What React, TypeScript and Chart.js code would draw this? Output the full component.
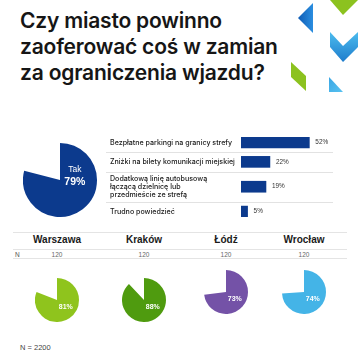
import React, { useEffect, useRef } from "react";
import { Chart, registerables } from "chart.js";

Chart.register(...registerables);

const FONT = "'Liberation Sans', Arial, Helvetica, sans-serif";
const FONT_TITLE = "Inter, 'Liberation Sans', Arial, sans-serif";
Chart.defaults.font.family = FONT;

// ---- data ----
const titleLines = ["Czy miasto powinno", "zaoferować coś w zamian", "za ograniczenia wjazdu?"];

const overallLabels = ["Tak", "Pozostali"];
const overallValues = [79, 21];

const reasonLabels = [
  ["Bezpłatne parkingi na granicy strefy"],
  ["Zniżki na bilety komunikacji miejskiej"],
  ["Dodatkową linię autobusową", "łączącą dzielnicę lub", "przedmieście ze strefą"],
  ["Trudno powiedzieć"],
];
const reasonValues = [52, 22, 19, 5];

const cityNames = ["Warszawa", "Kraków", "Łódź", "Wrocław"];
const cityN = [120, 120, 120, 120];
const cityYes = [81, 88, 73, 74];
const totalN = 2200;

// ---- styles / layout ----
const NAVY = "#0c3a8d";
const cityColors = ["#8fc41d", "#4f9b0f", "#7452a7", "#44b4e7"];
const cityCenters = [
  { x: 57, y: 300 },
  { x: 144, y: 300 },
  { x: 226, y: 292 },
  { x: 304, y: 292 },
];

// Each answer row is as tall as its label (in text lines) plus a fixed gap,
// so the three-line answer gets a taller row.
const ROW_GAP = 2.6;
const rowSpans = reasonLabels.map((l) => l.length + ROW_GAP);
const rowStarts = rowSpans.map((_, i) => rowSpans.slice(0, i).reduce((a, b) => a + b, 0));
const rowCenters = rowStarts.map((s, i) => s + rowSpans[i] / 2);

type PieText = { text: string; dx: number; dy: number; size: number; weight: string };

// Writes text inside the first slice, placed relative to the arc's centre and radius.
const sliceTextPlugin = {
  id: "sliceText",
  afterDatasetsDraw(chart: any, _args: any, opts: any) {
    const arc = chart.getDatasetMeta(0).data[0];
    if (!arc || !opts || !opts.lines) return;
    const { x, y, outerRadius } = arc;
    const ctx = chart.ctx;
    ctx.save();
    ctx.fillStyle = "#ffffff";
    ctx.textAlign = "center";
    ctx.textBaseline = "middle";
    (opts.lines as PieText[]).forEach((l) => {
      ctx.font = `${l.weight} ${l.size}px ${FONT}`;
      ctx.fillText(l.text, x + l.dx * outerRadius, y + l.dy * outerRadius);
    });
    ctx.restore();
  },
};

function PieChart(props: {
  values: number[];
  labels: string[];
  color: string;
  size: number;
  left: number;
  top: number;
  lines: PieText[];
}) {
  const ref = useRef<HTMLCanvasElement | null>(null);
  useEffect(() => {
    if (!ref.current) return;
    const chart = new Chart(ref.current, {
      type: "pie",
      data: {
        labels: props.labels,
        datasets: [
          {
            data: props.values,
            backgroundColor: [props.color, "rgba(0,0,0,0)"],
            borderWidth: 0,
          },
        ],
      },
      options: {
        responsive: false,
        animation: false,
        events: [],
        layout: { padding: 0 },
        plugins: {
          legend: { display: false },
          tooltip: { enabled: false },
          sliceText: { lines: props.lines },
        } as any,
      },
      plugins: [sliceTextPlugin],
    });
    return () => chart.destroy();
  }, []);
  return (
    <canvas
      ref={ref}
      width={props.size}
      height={props.size}
      style={{
        position: "absolute",
        left: props.left,
        top: props.top,
        width: props.size,
        height: props.size,
        display: "block",
      }}
    />
  );
}

// Thin rules on the boundaries between answer rows, running under the labels as well.
const rowRulePlugin = {
  id: "rowRules",
  afterDraw(chart: any) {
    const ys = chart.scales.y;
    const ctx = chart.ctx;
    ctx.save();
    ctx.strokeStyle = "#e2e2e2";
    ctx.lineWidth = 1;
    for (let i = 1; i < rowStarts.length; i++) {
      const y = Math.round(ys.getPixelForValue(rowStarts[i])) + 0.5;
      ctx.beginPath();
      ctx.moveTo(6, y);
      ctx.lineTo(chart.chartArea.right, y);
      ctx.stroke();
    }
    ctx.restore();
  },
};

// Percentage written just past the end of each bar.
const barValuePlugin = {
  id: "barValues",
  afterDatasetsDraw(chart: any) {
    const meta = chart.getDatasetMeta(0);
    const ctx = chart.ctx;
    ctx.save();
    ctx.fillStyle = "#333333";
    ctx.font = `6.4px ${FONT}`;
    ctx.textAlign = "left";
    ctx.textBaseline = "middle";
    meta.data.forEach((bar: any, i: number) => {
      ctx.fillText(`${reasonValues[i]}%`, bar.x + 6, bar.y);
    });
    ctx.restore();
  },
};

function ReasonsChart() {
  const ref = useRef<HTMLCanvasElement | null>(null);
  useEffect(() => {
    if (!ref.current) return;
    const chart = new Chart(ref.current, {
      type: "bar",
      data: {
        datasets: [
          {
            data: reasonValues.map((v, i) => ({ x: v, y: rowCenters[i] })),
            backgroundColor: NAVY,
            barThickness: 11,
          },
        ],
      },
      options: {
        indexAxis: "y",
        responsive: false,
        animation: false,
        events: [],
        layout: { padding: { left: 10, right: 7, top: 0, bottom: 0 } },
        plugins: { legend: { display: false }, tooltip: { enabled: false } },
        scales: {
          x: { type: "linear", display: false, min: 0, max: 70 },
          y: {
            type: "linear",
            reverse: true,
            offset: false,
            bounds: "data",
            min: rowCenters[0] - 1,
            max: rowCenters[rowCenters.length - 1] + 1,
            grid: { display: false },
            border: { display: false },
            afterBuildTicks: (s: any) => {
              s.ticks = rowCenters.map((v) => ({ value: v }));
            },
            afterFit: (s: any) => {
              s.width = 131;
              s.paddingTop = 0;
              s.paddingBottom = 0;
            },
            ticks: {
              autoSkip: false,
              crossAlign: "far",
              padding: 0,
              color: "#1a1a1a",
              font: { family: FONT_TITLE, size: 7.1, weight: "500", lineHeight: 1.15 },
              callback: (_v: any, i: number) => reasonLabels[i],
            },
          },
        },
      } as any,
      plugins: [rowRulePlugin, barValuePlugin],
    });
    return () => chart.destroy();
  }, []);
  return (
    <canvas
      ref={ref}
      width={240}
      height={80}
      style={{ position: "absolute", left: 100, top: 137, width: 240, height: 80, display: "block" }}
    />
  );
}

function Decor() {
  return (
    <svg
      width={360}
      height={100}
      style={{ position: "absolute", left: 0, top: 0 }}
      viewBox="0 0 360 100"
    >
      <defs>
        <linearGradient id="gDark" x1="0" y1="0" x2="1" y2="0">
          <stop offset="0" stopColor="#0f5cb5" />
          <stop offset="1" stopColor="#2a8ee0" />
        </linearGradient>
        <linearGradient id="gLight" x1="0" y1="0" x2="0" y2="1">
          <stop offset="0" stopColor="#4cbcee" />
          <stop offset="1" stopColor="#1e7ccc" />
        </linearGradient>
        <linearGradient id="gSmall" x1="0" y1="0" x2="1" y2="1">
          <stop offset="0" stopColor="#3aa6e4" />
          <stop offset="1" stopColor="#58c2f0" />
        </linearGradient>
      </defs>
      <polygon points="330,0 358,0 343,15" fill="#8cc21f" />
      <polygon points="298,18 313,3 313,33" fill="url(#gDark)" />
      <polygon points="330,32 343,46 358,32 358,47 343,62 330,47" fill="url(#gLight)" />
      <polygon points="291,62 306,76 306,91 291,77" fill="#8cc21f" />
      <polygon points="329,77 343,92 329,92" fill="url(#gSmall)" />
    </svg>
  );
}

const ruleStyle = (top: number): React.CSSProperties => ({
  position: "absolute",
  left: 13,
  top,
  width: 334,
  height: 1,
  background: "#e4e4e4",
});

export default function App() {
  return (
    <div
      style={{
        position: "absolute",
        left: 0,
        top: 0,
        width: 360,
        height: 360,
        background: "#ffffff",
        overflow: "hidden",
        fontFamily: FONT,
      }}
    >
      <Decor />
      <div
        style={{
          position: "absolute",
          left: 20,
          top: 8,
          fontFamily: FONT_TITLE,
          fontSize: 21,
          lineHeight: "26px",
          fontWeight: 600,
          color: "#161616",
          whiteSpace: "nowrap",
          letterSpacing: -0.2,
        }}
      >
        {titleLines.map((t) => (
          <div key={t}>{t}</div>
        ))}
      </div>

      <PieChart
        values={overallValues}
        labels={overallLabels}
        color={NAVY}
        size={74}
        left={23}
        top={143}
        lines={[
          { text: overallLabels[0], dx: 0.4, dy: -0.27, size: 8.5, weight: "normal" },
          { text: `${overallValues[0]}%`, dx: 0.4, dy: 0.05, size: 10.5, weight: "bold" },
        ]}
      />

      <ReasonsChart />

      <div style={ruleStyle(232)} />
      <div style={ruleStyle(249)} />
      <div style={ruleStyle(258)} />
      <div
        style={{
          position: "absolute",
          left: 15,
          top: 251,
          fontSize: 6.5,
          lineHeight: "7px",
          color: "#555555",
        }}
      >
        N
      </div>
      {cityNames.map((name, i) => (
        <React.Fragment key={name}>
          <div
            style={{
              position: "absolute",
              left: cityCenters[i].x - 40,
              width: 80,
              top: 234,
              textAlign: "center",
              fontSize: 10,
              lineHeight: "12px",
              fontWeight: 700,
              color: "#1a1a1a",
            }}
          >
            {name}
          </div>
          <div
            style={{
              position: "absolute",
              left: cityCenters[i].x - 20,
              width: 40,
              top: 251,
              textAlign: "center",
              fontSize: 6.5,
              lineHeight: "7px",
              color: "#666666",
            }}
          >
            {cityN[i]}
          </div>
          <PieChart
            values={[cityYes[i], 100 - cityYes[i]]}
            labels={["Tak", "Pozostali"]}
            color={cityColors[i]}
            size={44}
            left={cityCenters[i].x - 22}
            top={cityCenters[i].y - 22}
            lines={[{ text: `${cityYes[i]}%`, dx: 0.4, dy: 0.3, size: 7, weight: "bold" }]}
          />
        </React.Fragment>
      ))}

      <div
        style={{
          position: "absolute",
          left: 20,
          top: 343,
          fontSize: 7.5,
          lineHeight: "9px",
          color: "#444444",
        }}
      >
        N = {totalN}
      </div>
    </div>
  );
}
